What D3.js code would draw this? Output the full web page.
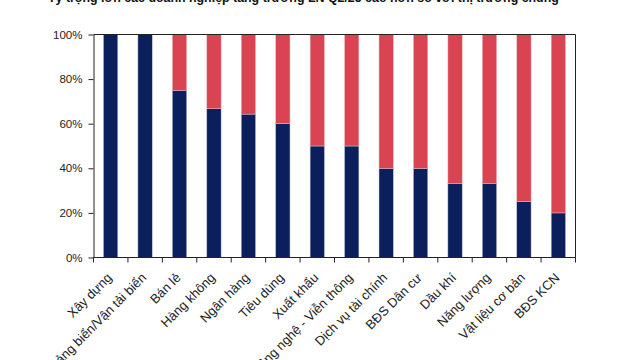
<!DOCTYPE html>
<html><head><meta charset="utf-8">
<script src="https://cdn.jsdelivr.net/npm/d3@7"></script>
<style>body{margin:0;background:#fff;} text{font-family:"Liberation Sans",Arial,sans-serif;}</style>
</head><body>
<svg id="c" width="640" height="360"></svg>
<script>
const title = "Tỷ trọng lớn các doanh nghiệp tăng trưởng LN Q2/25 cao hơn so với thị trường chung";
const categories = ["Xây dựng","Cảng biển/Vận tải biển","Bán lẻ","Hàng không","Ngân hàng","Tiêu dùng","Xuất khẩu","Công nghệ - Viễn thông","Dịch vụ tài chính","BĐS Dân cư","Dầu khí","Năng lượng","Vật liệu cơ bản","BĐS KCN"];
const higher = [100,100,75,66.7,64.3,60,50,50,40,40,33.3,33.3,25,20];
const lower = higher.map(v => 100 - v);
const yTicks = [0,20,40,60,80,100];

const svg = d3.select("#c");
const m = {l:93.5, r:575.5, t:34.5, b:257.5};
const x = d3.scaleBand().domain(categories).range([m.l, m.r]).paddingInner(0.585).paddingOuter(0.29);
const y = d3.scaleLinear().domain([0,100]).range([m.b, m.t]);

svg.append("text").attr("x",48).attr("y",2).attr("font-size",12.4).attr("font-weight","bold").attr("fill","#111").text(title);

const rows = categories.map((c,i)=>({c, a:higher[i], b:lower[i]}));
const g = svg.append("g");
g.selectAll(".hi").data(rows).join("rect")
  .attr("x", d=>x(d.c)).attr("width", x.bandwidth())
  .attr("y", d=>y(d.a)).attr("height", d=>y(0)-y(d.a))
  .attr("fill","#0a1f5b").attr("stroke","#b9bfd6").attr("stroke-width",0.5);
g.selectAll(".lo").data(rows.filter(d=>d.b>0)).join("rect")
  .attr("x", d=>x(d.c)).attr("width", x.bandwidth())
  .attr("y", d=>y(100)).attr("height", d=>y(d.a)-y(100))
  .attr("fill","#da4352").attr("stroke","#f0b8be").attr("stroke-width",0.5);

// frame top & right
svg.append("line").attr("x1",m.l).attr("x2",m.r).attr("y1",m.t).attr("y2",m.t).attr("stroke","#222").attr("stroke-width",1);
svg.append("line").attr("x1",m.r).attr("x2",m.r).attr("y1",m.t).attr("y2",m.b).attr("stroke","#222").attr("stroke-width",1);

// y axis
const ya = svg.append("g").attr("transform",`translate(${m.l},0)`)
  .call(d3.axisLeft(y).tickValues(yTicks).tickFormat(d=>d+"%").tickSize(5).tickSizeOuter(0).tickPadding(6));
ya.select(".domain").attr("stroke","#222");
ya.selectAll(".tick line").attr("stroke","#222");
ya.selectAll("text").attr("font-size",11.5).attr("fill","#222").attr("font-family","Liberation Sans, Arial, sans-serif");

// x axis: ticks at band boundaries
const xa = svg.append("g").attr("transform",`translate(0,${m.b})`);
xa.append("line").attr("x1",m.l).attr("x2",m.r).attr("stroke","#222");
const bounds = d3.range(categories.length+1).map(i => m.l + i*(m.r-m.l)/categories.length);
xa.selectAll(".t").data(bounds).join("line").attr("x1",d=>d).attr("x2",d=>d).attr("y1",0).attr("y2",5).attr("stroke","#222");
xa.selectAll(".lbl").data(categories).join("text")
  .attr("transform", d=>`translate(${x(d)+x.bandwidth()/2+2},${21}) rotate(-45)`)
  .attr("text-anchor","end").attr("font-size",13).attr("fill","#222").text(d=>d);
</script>
</body></html>
